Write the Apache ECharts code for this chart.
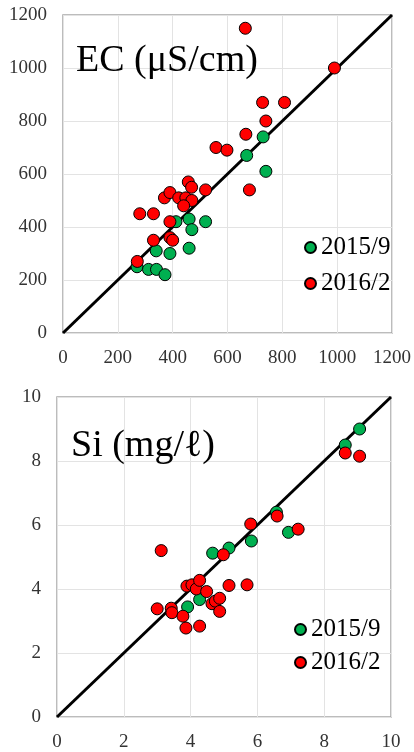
<!DOCTYPE html>
<html>
<head>
<meta charset="utf-8">
<script src="https://cdn.jsdelivr.net/npm/echarts@6/dist/echarts.min.js"></script>
<style>
  html, body { margin: 0; padding: 0; background: #fff; }
  #chart { width: 414px; height: 752px; }
</style>
</head>
<body>
<div id="chart"></div>
<script>
// Electrical conductivity (µS/cm): [x, y] pairs per survey
const ecSep2015 = [
  [730, 740], [670, 670], [740, 610], [412, 420], [460, 430], [520, 420],
  [470, 390], [340, 310], [390, 300], [460, 320], [270, 250], [312, 240],
  [341, 240], [372, 220]
];
const ecFeb2016 = [
  [665, 1150], [990, 1000], [728, 870], [808, 870], [740, 800], [667, 750],
  [558, 700], [598, 690], [680, 540], [457, 570], [469, 550], [520, 540],
  [370, 510], [390, 530], [422, 510], [448, 510], [470, 500], [440, 480],
  [280, 450], [330, 450], [390, 420], [390, 360], [400, 350], [330, 350],
  [271, 270]
];

// Dissolved silica (mg/ℓ)
const siSep2015 = [
  [9.06, 9.0], [8.63, 8.5], [6.57, 6.4], [6.93, 5.77], [5.82, 5.5],
  [4.66, 5.12], [5.15, 5.28], [3.91, 3.44], [4.27, 3.67]
];
const siFeb2016 = [
  [8.63, 8.25], [9.06, 8.15], [6.59, 6.28], [7.22, 5.87], [5.8, 6.03],
  [4.98, 5.07], [3.12, 5.2], [3.0, 3.38], [3.42, 3.4], [3.44, 3.26],
  [3.77, 3.15], [3.86, 2.78], [4.27, 2.84], [3.89, 4.09], [4.04, 4.13],
  [4.17, 4.0], [4.27, 4.27], [4.48, 3.92], [4.64, 3.54], [4.74, 3.62],
  [4.87, 3.71], [4.87, 3.3], [5.15, 4.11], [5.69, 4.13]
];

// Axis ranges and tick steps
const ecTicks = { min: 0, max: 1200, step: 200 };
const siTicks = { min: 0, max: 10, step: 2 };
const seriesNames = ['2015/9', '2016/2'];
const titles = ['EC (μS/cm)', 'Si (mg/ℓ)'];

const serif = 'Liberation Serif';
const GREEN = '#00b050';
const RED = '#ff0000';

function axis(gridIndex, t) {
  return {
    gridIndex, type: 'value', min: t.min, max: t.max, interval: t.step,
    axisLine: { show: false },
    axisTick: { show: false },
    axisLabel: {
      fontFamily: serif, fontSize: 19, color: '#333', margin: 16,
      formatter: v => String(v)
    },
    splitLine: { show: true, lineStyle: { color: '#e3e3e3', width: 1 } }
  };
}

function points(name, data, color, idx) {
  return {
    name, type: 'scatter', data, xAxisIndex: idx, yAxisIndex: idx,
    symbol: 'circle', symbolSize: 12, z: 3,
    itemStyle: { color, borderColor: '#000', borderWidth: 1, opacity: 1 }
  };
}

// 1:1 reference line across the full axis range
function oneToOne(t, idx) {
  return {
    type: 'line', xAxisIndex: idx, yAxisIndex: idx, silent: true,
    data: [[t.min, t.min], [t.max, t.max]],
    showSymbol: false, symbol: 'none', z: 2,
    lineStyle: { color: '#000', width: 3 }
  };
}

function legend(left, top, gap) {
  return {
    left, top, orient: 'vertical', itemGap: gap,
    itemWidth: 11, itemHeight: 11, icon: 'circle', selectedMode: false,
    data: seriesNames,
    textStyle: { fontFamily: serif, fontSize: 25, lineHeight: 25, color: '#000' }
  };
}

const chart = echarts.init(document.getElementById('chart'), null, { renderer: 'canvas' });
chart.setOption({
  animation: false,
  backgroundColor: '#fff',
  textStyle: { fontFamily: serif },
  title: [
    { text: titles[0], left: 76, top: 42, padding: 0,
      textStyle: { fontFamily: serif, fontSize: 38, fontWeight: 'normal', color: '#000' } },
    { text: titles[1], left: 71, top: 427, padding: 0,
      textStyle: { fontFamily: serif, fontSize: 38, fontWeight: 'normal', color: '#000' } }
  ],
  grid: [
    { left: 63, top: 15, width: 331, height: 318, show: true,
      borderColor: '#a6a6a6', borderWidth: 1.5, backgroundColor: 'transparent' },
    { left: 57, top: 397, width: 334, height: 322, show: true,
      borderColor: '#a6a6a6', borderWidth: 1.5, backgroundColor: 'transparent' }
  ],
  xAxis: [axis(0, ecTicks), axis(1, siTicks)],
  yAxis: [axis(0, ecTicks), axis(1, siTicks)],
  legend: [legend(299, 230, 11), legend(289, 612, 8)],
  series: [
    oneToOne(ecTicks, 0),
    points(seriesNames[0], ecSep2015, GREEN, 0),
    points(seriesNames[1], ecFeb2016, RED, 0),
    oneToOne(siTicks, 1),
    points(seriesNames[0], siSep2015, GREEN, 1),
    points(seriesNames[1], siFeb2016, RED, 1)
  ]
});
</script>
</body>
</html>
